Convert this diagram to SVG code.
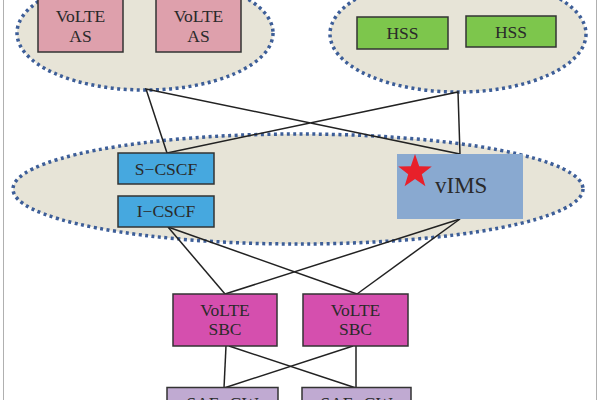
<svg xmlns="http://www.w3.org/2000/svg" width="600" height="400" viewBox="0 0 600 400">
<style>
.cl{fill:#e7e4d7;stroke:#3d5e98;stroke-width:3.5;stroke-dasharray:3 3.5}
.bx{stroke:#333;stroke-width:1.5}
.t{font-family:"Liberation Serif","Times New Roman",serif;font-size:17.5px;fill:#2a2a2a;text-anchor:middle}
.ln{stroke:#222;stroke-width:1.5;fill:none}
</style>
<rect width="600" height="400" fill="#fff"/>
<line x1="3.5" y1="0" x2="3.5" y2="400" stroke="#b0b0b0" stroke-width="1"/>
<line x1="596.5" y1="0" x2="596.5" y2="400" stroke="#b0b0b0" stroke-width="1"/>
<g id="cluster-as"><ellipse class="cl" cx="145" cy="33" rx="128" ry="57"/></g>
<g id="cluster-hss"><ellipse class="cl" cx="458" cy="34" rx="128" ry="58"/></g>
<g id="cluster-ims"><ellipse class="cl" cx="298" cy="189" rx="285" ry="55"/></g>
<g id="connectors">
<polyline class="ln" points="167,153 146,89 460,154 458,92 167,153"/>
<line class="ln" x1="168" y1="227" x2="225" y2="294"/>
<line class="ln" x1="168" y1="227" x2="357" y2="294"/>
<line class="ln" x1="460" y1="219" x2="225" y2="294"/>
<line class="ln" x1="460" y1="219" x2="357" y2="294"/>
<line class="ln" x1="226" y1="346" x2="224" y2="388"/>
<line class="ln" x1="229" y1="346" x2="356" y2="388"/>
<line class="ln" x1="353" y1="346" x2="224" y2="388"/>
<line class="ln" x1="356" y1="346" x2="356" y2="388"/>
</g>
<g id="volte-as-1"><rect class="bx" x="38" y="-3" width="85" height="55" fill="#dea0ac"/><text class="t" x="80.5" y="22">VoLTE</text><text class="t" x="80.5" y="42">AS</text></g>
<g id="volte-as-2"><rect class="bx" x="156" y="-3" width="85" height="55" fill="#dea0ac"/><text class="t" x="198.5" y="22">VoLTE</text><text class="t" x="198.5" y="42">AS</text></g>
<g id="hss-1"><rect class="bx" x="357" y="17" width="91" height="32" fill="#7dc64c"/><text class="t" x="402.5" y="39">HSS</text></g>
<g id="hss-2"><rect class="bx" x="466" y="16" width="90" height="31" fill="#7dc64c"/><text class="t" x="511" y="38">HSS</text></g>
<g id="s-cscf"><rect class="bx" x="118" y="153" width="96" height="31" fill="#46a8df"/><text class="t" x="166" y="175" font-size="18">S−CSCF</text></g>
<g id="i-cscf"><rect class="bx" x="118" y="196" width="96" height="31" fill="#46a8df"/><text class="t" x="166" y="217" font-size="18">I−CSCF</text></g>
<g id="vims"><rect x="397" y="154" width="126" height="65" fill="#89a9d0"/><polygon points="415,154 419.2,166.3 431.8,166.5 421.8,174.2 425.4,186.3 415,179 404.6,186.3 408.2,174.2 398.2,166.5 410.8,166.3" fill="#e8202a"/><text x="435" y="193" font-family="'Liberation Serif','Times New Roman',serif" font-size="23" fill="#2a2a2a">vIMS</text></g>
<g id="volte-sbc-1"><rect class="bx" x="173" y="294" width="104" height="52" fill="#d54fae"/><text class="t" x="225" y="316">VoLTE</text><text class="t" x="225" y="335">SBC</text></g>
<g id="volte-sbc-2"><rect class="bx" x="303" y="294" width="105" height="52" fill="#d54fae"/><text class="t" x="355.5" y="316">VoLTE</text><text class="t" x="355.5" y="335">SBC</text></g>
<g id="sae-gw-1"><rect class="bx" x="167" y="387.5" width="111" height="30" fill="#c0aad2"/><text class="t" x="222.5" y="409">SAE−GW</text></g>
<g id="sae-gw-2"><rect class="bx" x="302" y="387.5" width="109" height="30" fill="#c0aad2"/><text class="t" x="356.5" y="409">SAE−GW</text></g>
</svg>
